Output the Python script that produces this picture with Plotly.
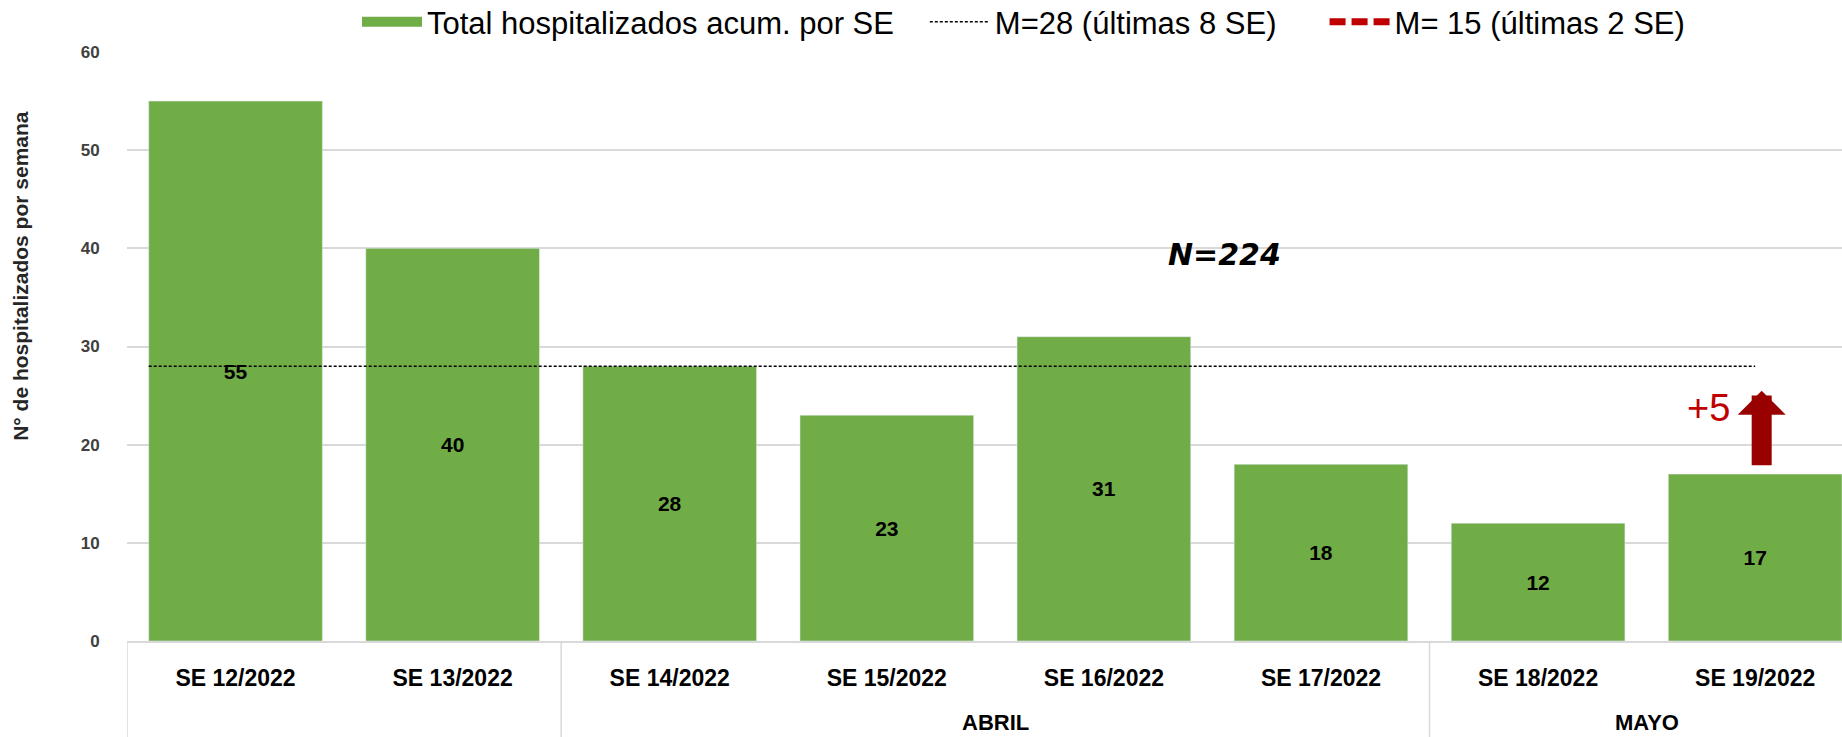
import plotly.graph_objects as go

# data
months = ["", "", "ABRIL", "ABRIL", "ABRIL", "ABRIL", "MAYO", "MAYO"]
weeks = ["SE 12/2022", "SE 13/2022", "SE 14/2022", "SE 15/2022",
         "SE 16/2022", "SE 17/2022", "SE 18/2022", "SE 19/2022"]
hosp = [55, 40, 28, 23, 31, 18, 12, 17]
mean_8 = int(sum(hosp) / len(hosp) + 0.5)
mean_2 = int(sum(hosp[-2:]) / 2 + 0.5)
total = sum(hosp)
delta_last = hosp[-1] - hosp[-2]

GREEN = "#70AD47"
RED = "#C00000"
DARKRED = "#990000"
GRID = "#D9D9D9"
FONT = "Liberation Sans"
NB = "\u00a0"

W, H = 1842, 737
ML, MT, MB = 127, 52, 96
plot_w = W - ML
plot_h = H - MT - MB

n = len(weeks)
xr = [-0.5, n - 0.6]

fig = go.Figure()
fig.add_trace(go.Bar(
    x=weeks, y=hosp, showlegend=False,
    marker_color=GREEN,
    text=hosp, textposition="inside", insidetextanchor="middle",
    textfont=dict(family=FONT, size=21, color="#000000"),
    texttemplate="<b>%{text}</b>",
    hovertemplate="%{x}: %{y}<extra></extra>",
))
# legend entries
fig.add_trace(go.Scatter(
    x=weeks, y=[None] * n, mode="lines",
    name="Total hospitalizados acum. por SE" + NB * 3,
    line=dict(color=GREEN, width=18),
))
fig.add_trace(go.Scatter(
    x=weeks, y=[None] * n, mode="lines",
    name=f"M={mean_8} (últimas 8 SE)" + NB * 5,
    line=dict(color="#000000", width=1.5, dash="3px,2px"),
))
fig.add_trace(go.Scatter(
    x=weeks, y=[None] * n, mode="lines",
    name=f"M= {mean_2} (últimas 2 SE)",
    line=dict(color=RED, width=7, dash="16px,6px"),
))

# mean line over the 8 weeks
fig.add_shape(type="line", xref="x", yref="y",
              x0=-0.4, x1=n - 1, y0=mean_8, y1=mean_8,
              line=dict(color="#000000", width=1.5, dash="3px,2px"))

# month groups under the week labels
groups = []
for i, m in enumerate(months):
    if not groups or groups[-1][0] != m:
        groups.append([m, i, i])
    else:
        groups[-1][2] = i
bottom = -MB / plot_h
for m, i0, i1 in groups:
    fig.add_shape(type="line", xref="x", yref="paper",
                  x0=i0 - 0.5, x1=i0 - 0.5, y0=0, y1=bottom,
                  line=dict(color=GRID, width=1.5))
    if m:
        fig.add_annotation(xref="x", yref="paper", x=(i0 + i1) / 2,
                           y=-81 / plot_h, text=f"<b>{m}</b>",
                           showarrow=False, xanchor="center", yanchor="middle",
                           font=dict(family=FONT, size=22, color="#000000"))

fig.add_annotation(xref="paper", yref="paper", x=0.64, y=0.657,
                   text=f"<b><i>N={total}</i></b>", showarrow=False,
                   xanchor="center", yanchor="middle",
                   font=dict(family="DejaVu Sans", size=30, color="#000000"))
fig.add_annotation(xref="paper", yref="paper", x=(1708 - ML) / plot_w, y=0.396,
                   text=f"+{delta_last}", showarrow=False,
                   xanchor="center", yanchor="middle",
                   font=dict(family=FONT, size=38, color=RED))
fig.add_annotation(xref="x", yref="y", x=n - 1 + 0.03, y=hosp[-1] + 8.5,
                   text="", showarrow=True, ax=0, ay=76,
                   arrowhead=1, arrowsize=0.4, arrowwidth=20,
                   arrowcolor=DARKRED)
fig.add_annotation(xref="paper", yref="paper", x=(21 - ML) / plot_w,
                   y=0.62, xanchor="center", yanchor="middle",
                   text="<b>N° de hospitalizados por semana</b>",
                   textangle=-90, showarrow=False,
                   font=dict(family=FONT, size=21, color="#262626"))

fig.update_layout(
    width=W, height=H,
    paper_bgcolor="white", plot_bgcolor="white",
    margin=dict(l=ML, r=0, t=MT, b=MB, autoexpand=False),
    bargap=0.2,
    font=dict(family=FONT, color="#000000"),
    showlegend=True,
    legend=dict(orientation="h", x=(357 - ML) / plot_w, xanchor="left",
                y=(H - MB + 5) / plot_h, yanchor="top",
                font=dict(family=FONT, size=31, color="#000000"),
                itemwidth=60, bgcolor="rgba(0,0,0,0)"),
)
fig.update_xaxes(type="category", range=xr, showgrid=False, showline=True,
                 linecolor=GRID, linewidth=1.5,
                 ticks="outside", ticklen=16, tickcolor="rgba(0,0,0,0)",
                 tickfont=dict(family=FONT, size=23, color="#000000", weight="bold"))
fig.update_yaxes(range=[0, 60], dtick=10, showgrid=True, gridcolor=GRID,
                 gridwidth=1.5, zeroline=False, showline=False,
                 ticks="outside", ticklen=23, tickcolor="rgba(0,0,0,0)",
                 tickfont=dict(family=FONT, size=17, color="#404040", weight="bold"))

fig.write_html("out.html", config={"displayModeBar": False},
               post_script="document.body.style.margin='0';")
